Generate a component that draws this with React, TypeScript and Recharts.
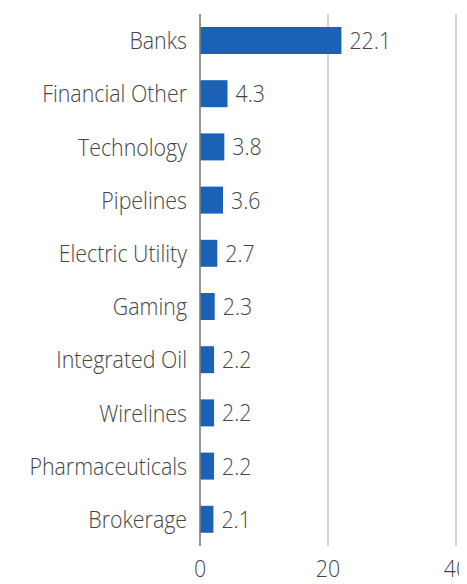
import { BarChart, Bar, XAxis, YAxis, CartesianGrid, LabelList } from 'recharts';

const sectors = [
  'Banks',
  'Financial Other',
  'Technology',
  'Pipelines',
  'Electric Utility',
  'Gaming',
  'Integrated Oil',
  'Wirelines',
  'Pharmaceuticals',
  'Brokerage',
];
const weights = [22.1, 4.3, 3.8, 3.6, 2.7, 2.3, 2.2, 2.2, 2.2, 2.1];
const xTicks = [0, 20, 40];

const data = sectors.map((name, i) => ({ name, value: weights[i] }));

const textColor = '#454545';
const textStyle = { fontFamily: "'Open Sans', sans-serif", fontWeight: 350, fontSize: 24 } as const;
// the reference font is a bit narrower than Open Sans
const squeeze = 0.89;

const CategoryTick = ({ x, y, payload }: any) => (
  <text
    transform={`translate(${x},${y}) scale(${squeeze},1)`}
    textAnchor="end"
    dy="0.355em"
    fill={textColor}
    style={textStyle}
  >
    {payload.value}
  </text>
);

const ValueTick = ({ x, y, payload }: any) => (
  <text
    transform={`translate(${x},${y}) scale(${squeeze},1)`}
    textAnchor="middle"
    dy="0.71em"
    fill={textColor}
    style={textStyle}
  >
    {payload.value}
  </text>
);

const BarValue = ({ x, y, width, height, value }: any) => (
  <text
    transform={`translate(${Number(x) + Number(width) + 8},${Number(y) + Number(height) / 2}) scale(${squeeze},1)`}
    textAnchor="start"
    dy="0.355em"
    fill={textColor}
    style={textStyle}
  >
    {Number(value).toFixed(1)}
  </text>
);

export default function App() {
  return (
    <div style={{ width: 459, height: 576 }}>
      <BarChart
        width={459}
        height={576}
        data={data}
        layout="vertical"
        margin={{ top: 6, right: 11, bottom: 0, left: 0 }}
      >
        <CartesianGrid horizontal={false} stroke="#b0b0b0" strokeWidth={1} />
        <XAxis
          type="number"
          domain={[0, 40]}
          ticks={xTicks}
          axisLine={false}
          tickLine={false}
          tickSize={0}
          tickMargin={14}
          height={38}
          interval={0}
          tick={<ValueTick />}
        />
        <YAxis
          type="category"
          dataKey="name"
          width={192}
          axisLine={{ stroke: '#808080', strokeWidth: 1.5 }}
          tickLine={false}
          tickSize={0}
          tickMargin={13}
          interval={0}
          tick={<CategoryTick />}
        />
        <Bar dataKey="value" fill="#1b62b7" barSize={27} isAnimationActive={false}>
          <LabelList dataKey="value" content={<BarValue />} />
        </Bar>
      </BarChart>
    </div>
  );
}
